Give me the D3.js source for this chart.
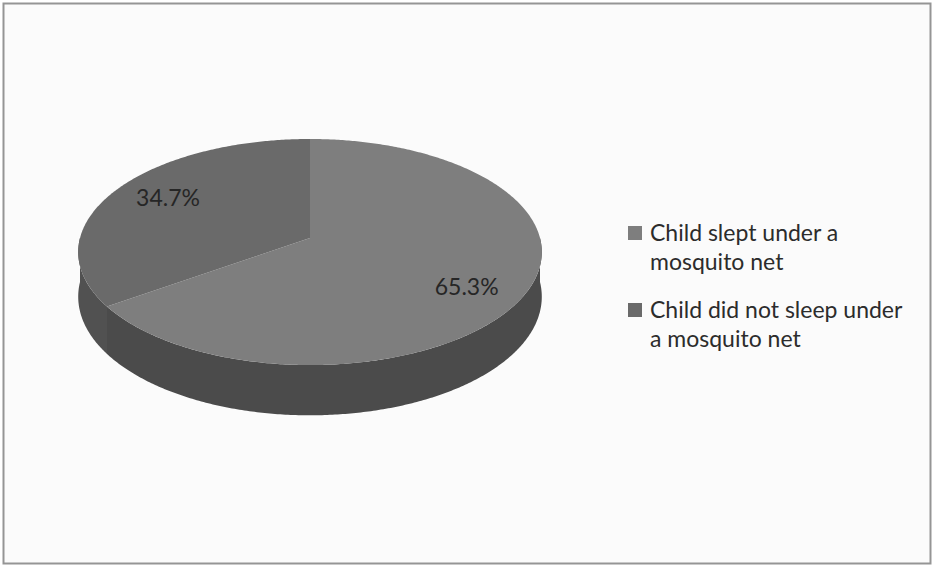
<!DOCTYPE html>
<html>
<head>
<meta charset="utf-8">
<script src="https://cdn.jsdelivr.net/npm/d3@7"></script>
<style>
  body { margin: 0; background: #fff; }
  svg { display: block; }
</style>
</head>
<body>
<div id="chart"></div>
<script>
/* global d3 */
// data
const categories = ["Child slept under a mosquito net", "Child did not sleep under a mosquito net"];
const values = [65.3, 34.7];
const legendLines = [["Child slept under a", "mosquito net"], ["Child did not sleep under", "a mosquito net"]];
const topColors = ["#7e7e7e", "#6a6a6a"];
const sideColors = ["#4b4b4b", "#515151"];

const width = 934, height = 567;
const cx = 310, rx = 230;
// simple perspective for the tilted disc: y = (A*v + B) / (C*v + 1)
const A = 81.8, B = 238, C = -0.124;
const depth = 44;

const svg = d3.select("#chart").append("svg")
    .attr("width", width)
    .attr("height", height);

svg.append("rect")
    .attr("x", 3.5).attr("y", 3.5)
    .attr("width", 927).attr("height", 560)
    .attr("fill", "#fbfbfb")
    .attr("stroke", "#959595")
    .attr("stroke-width", 2);

const color = d3.scaleOrdinal().domain(categories).range(topColors);
const sideColor = d3.scaleOrdinal().domain(categories).range(sideColors);

const pie = d3.pie().sort(null).value(d => d.value);
const arcs = pie(categories.map((c, i) => ({name: c, value: values[i]})));

// project a point of the unit disc (angle a, radius k) to the screen
function proj(a, k, down) {
    const u = Math.sin(a) * k, v = -Math.cos(a) * k;
    const den = C * v + 1;
    return [cx + rx * u / den, (A * v + B) / den + (down ? depth / den : 0)];
}

function arcPoints(a0, a1, down) {
    const n = Math.max(2, Math.ceil((a1 - a0) / 0.01));
    return d3.range(n + 1).map(i => proj(a0 + (a1 - a0) * i / n, 1, down));
}

const line = d3.line();
const g = svg.append("g");

// outer walls, only the front half of the rim is visible
arcs.forEach(d => {
    const a0 = Math.max(d.startAngle, Math.PI / 2);
    const a1 = Math.min(d.endAngle, 3 * Math.PI / 2);
    if (a1 <= a0) return;
    const pts = arcPoints(a0, a1, false).concat(arcPoints(a0, a1, true).reverse());
    g.append("path")
        .attr("d", line(pts) + "Z")
        .attr("fill", sideColor(d.data.name));
});

// top faces
arcs.forEach(d => {
    const pts = [proj(0, 0, false)].concat(arcPoints(d.startAngle, d.endAngle, false));
    g.append("path")
        .attr("d", line(pts) + "Z")
        .attr("fill", color(d.data.name));
});

// data labels (excel nudges them a bit clockwise)
arcs.forEach(d => {
    const p = proj((d.startAngle + d.endAngle) / 2 + 0.07, 0.76, false);
    g.append("text")
        .attr("x", p[0])
        .attr("y", p[1])
        .attr("dy", "0.45em")
        .attr("text-anchor", "middle")
        .attr("font-family", "Lato, 'Open Sans', sans-serif")
        .attr("font-size", 23)
        .attr("fill", "#262626")
        .text(d.data.value.toFixed(1) + "%");
});

// legend
const legend = svg.append("g").attr("transform", "translate(628,224)");
categories.forEach((c, i) => {
    const item = legend.append("g").attr("transform", `translate(0,${i * 77})`);
    item.append("rect")
        .attr("x", 0).attr("y", 2)
        .attr("width", 14).attr("height", 14)
        .attr("fill", color(c));
    legendLines[i].forEach((t, j) => {
        item.append("text")
            .attr("x", 22)
            .attr("y", 17 + j * 29)
            .attr("font-family", "Lato, 'Open Sans', sans-serif")
            .attr("font-size", 23)
            .attr("fill", "#2c2c2c")
            .text(t);
    });
});
</script>
</body>
</html>
